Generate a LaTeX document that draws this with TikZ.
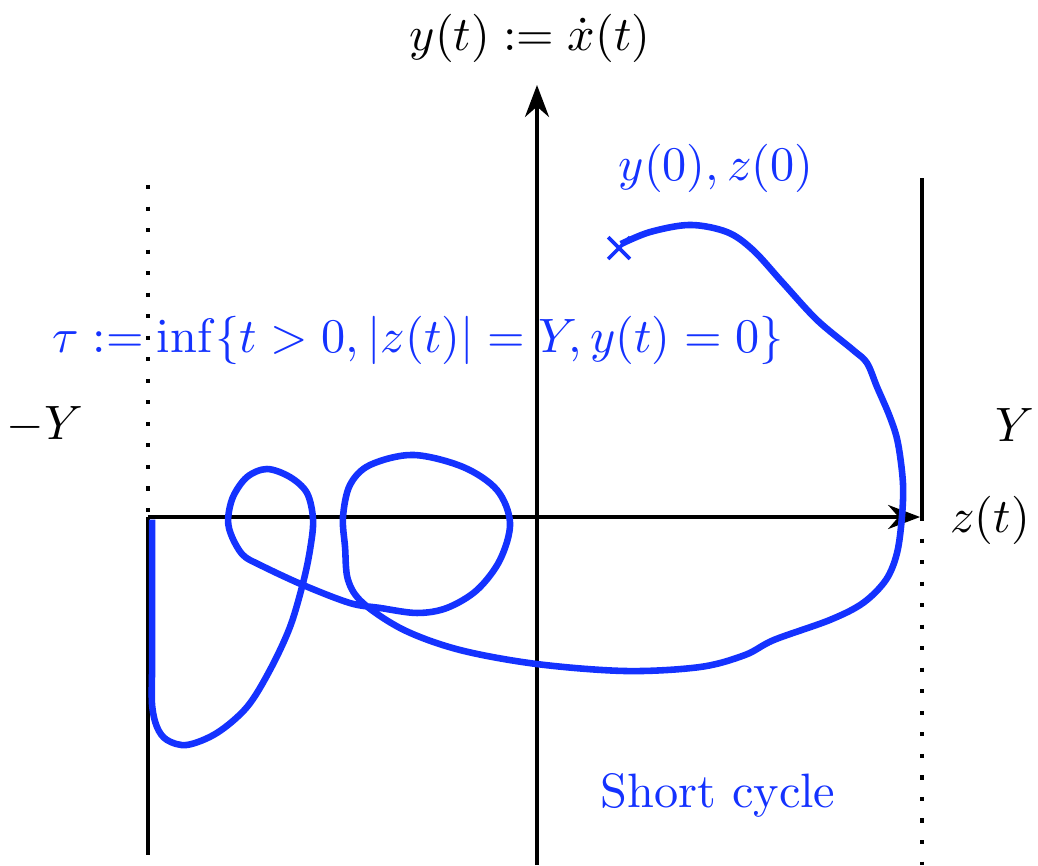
\documentclass[tikz,border=0pt]{standalone}
\usepackage{amsmath,amssymb}
\usepackage{tikz}
\usetikzlibrary{arrows.meta,shapes.misc}
\usepackage{xcolor}
\definecolor{trajblue}{RGB}{20,50,255}

\begin{document}
\begin{tikzpicture}[
      axis/.style={line width=0.9pt},
      wall/.style={line width=0.9pt},
      openwall/.style={line width=0.9pt, dash pattern=on 0.9pt off 3.85pt},
      traj/.style={trajblue, line width=1.45pt},
      lbl/.style={scale=1.065}]
    \useasboundingbox (-4.163,-2.698) rectangle (3.884,4.008);
    % labels first, the axes run over them
    \node[lbl, trajblue] (tau) at (-0.922,1.372) {$\tau := \inf\{t>0, |z(t)|=Y, y(t)=0\}$};
    \node[lbl, trajblue] (init) at (1.388,2.705) {$y(0), z(0)$};
    \node[lbl] (ylab) at (-0.054,3.713) {$y(t) := \dot{x}(t)$};
    \node[lbl] (zlab) at (3.512,-0.023) {$z(t)$};
    \node[lbl] (mY) at (-3.814,0.713) {$-Y$};
    \node[lbl] (pY) at (3.705,0.713) {$Y$};
    \node[lbl, trajblue] (cyc) at (1.403,-2.155) {Short cycle};
    % axes
    \coordinate (ybot) at (0,-2.698);
    \coordinate (ytop) at (0,3.349);
    \coordinate (zmin) at (-3.016,0);
    \coordinate (zmax) at (2.97,0);
    \draw[axis,-{Stealth}] (ybot) -- (ytop);
    \draw[axis,-{Stealth}] (zmin) -- (zmax);
    % the two walls at -Y and Y
    \coordinate (lt) at (-3.016,2.574);
    \coordinate (lb) at (-3.016,-2.62);
    \coordinate (rt) at (2.984,2.628);
    \coordinate (rm) at (2.984,0);
    \coordinate (rb) at (2.984,-2.698);
    \draw[openwall] (lt) -- (zmin);
    \draw[wall] (zmin) -- (lb);
    \draw[wall] (rt) -- (rm);
    \draw[openwall] (rm) -- (rb);
    % trajectory
    \node[cross out, draw=trajblue, thick, minimum size=4pt, inner sep=0pt] (start) at (0.636,2.085) {};
    \draw[traj] plot[smooth, tension=0.55] coordinates {
      (0.651,2.116) (0.876,2.209) (1.186,2.264) (1.473,2.209) (1.674,2.070)
      (1.907,1.814) (2.171,1.527) (2.450,1.295) (2.558,1.194) (2.636,1.008)
      (2.736,0.775) (2.798,0.574) (2.837,0.264) (2.829,0) (2.791,-0.279)
      (2.705,-0.488) (2.527,-0.667) (2.271,-0.798) (1.837,-0.953) (1.612,-1.070)
      (1.264,-1.163) (0.690,-1.194) (0,-1.140) (-0.597,-1.031) (-1.031,-0.876)
      (-1.349,-0.667) (-1.465,-0.488) (-1.488,-0.233) (-1.504,0) (-1.450,0.248)
      (-1.295,0.403) (-0.961,0.481) (-0.574,0.388) (-0.310,0.209) (-0.209,-0.047)
      (-0.287,-0.333) (-0.465,-0.566) (-0.698,-0.705) (-0.930,-0.744) (-1.217,-0.705)
      (-1.450,-0.667) (-1.814,-0.527) (-2.147,-0.372) (-2.279,-0.295) (-2.364,-0.155)
      (-2.395,-0.023) (-2.357,0.155) (-2.248,0.310) (-2.093,0.372) (-1.915,0.310)
      (-1.783,0.186) (-1.736,-0.023) (-1.760,-0.256) (-1.814,-0.512) (-1.915,-0.853)
      (-2.070,-1.186) (-2.248,-1.473) (-2.481,-1.674) (-2.713,-1.767) (-2.868,-1.729)
      (-2.946,-1.628) (-2.984,-1.457) (-2.984,-1.209)}
      -- (-2.984,-0.02);
  \end{tikzpicture}
\end{document}
